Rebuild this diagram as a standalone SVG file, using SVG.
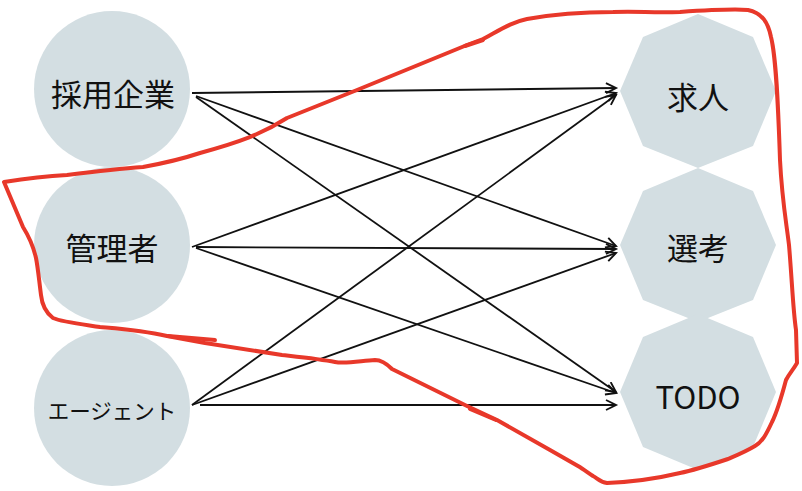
<svg xmlns="http://www.w3.org/2000/svg" width="802" height="491" viewBox="0 0 802 491">
<style>
.node{fill:#d3dee2;}
.lbl{font-family:"Noto Sans CJK JP","Noto Sans",sans-serif;fill:#111;text-anchor:middle;dominant-baseline:central;}
.edge{stroke:#111;stroke-width:1.8;fill:none;marker-end:url(#arr);}
.ink{stroke:#e8382a;stroke-width:4;fill:none;stroke-linecap:round;stroke-linejoin:round;}
</style>
<defs>
<marker id="arr" markerUnits="userSpaceOnUse" markerWidth="14" markerHeight="14" refX="11" refY="6" orient="auto">
<path d="M1,1 L11,6 L1,11" fill="none" stroke="#111" stroke-width="1.9"/>
</marker>
</defs>
<rect width="802" height="491" fill="#fff"/>
<g id="n-saiyou"><circle class="node" cx="112" cy="89" r="78"/><text class="lbl" x="113" y="92" font-size="31">採用企業</text></g>
<g id="n-kanri"><circle class="node" cx="112" cy="245" r="78"/><text class="lbl" x="112" y="246" font-size="31">管理者</text></g>
<g id="n-agent"><circle class="node" cx="112" cy="408" r="78"/><text class="lbl" x="112" y="409" font-size="21.5">エージェント</text></g>
<g id="n-kyujin"><polygon class="node" points="698,14 753,37 776,91 753,146 698,168 643,146 620,91 643,37"/><text class="lbl" x="698" y="95" font-size="31">求人</text></g>
<g id="n-senkou"><polygon class="node" points="698,168 753,191 776,245 753,300 698,322 643,300 620,245 643,191"/><text class="lbl" x="698" y="246" font-size="31">選考</text></g>
<g id="n-todo"><polygon class="node" points="698,314 753,337 776,392 753,447 698,470 643,447 620,392 643,337"/><text class="lbl" x="698" y="395" font-size="31">TODO</text></g>
<g id="edges">
<line class="edge" x1="192" y1="93" x2="616" y2="88"/>
<line class="edge" x1="196" y1="96" x2="616" y2="246"/>
<line class="edge" x1="196" y1="97" x2="616" y2="392"/>
<line class="edge" x1="192" y1="247" x2="616" y2="93"/>
<line class="edge" x1="196" y1="247" x2="616" y2="249"/>
<line class="edge" x1="196" y1="248" x2="616" y2="393"/>
<line class="edge" x1="192" y1="405" x2="616" y2="95"/>
<line class="edge" x1="192" y1="405" x2="616" y2="253"/>
<line class="edge" x1="200" y1="405" x2="616" y2="405"/>
</g>
<g id="annotation">
<path class="ink" d="M200,153 C240,142 262,134 287,118 L357,90 L467,45 L483,39 C500,30 512,22 527,19 C560,13 590,12 613,12 C640,11 650,13 680,12 C710,10 735,9 748,10 C762,13 768,22 771,37 C776,57 778,100 780,160 C782,200 786,220 789,245 C792,280 793,310 796,330 L797,363 C793,370 789,374 786,380 C782,395 778,410 772,422 C766,435 762,442 755,446 C745,452 735,456 728,459 C710,465 695,470 680,473 C655,479 630,482 607,483 C600,482 597,478 593,476 C587,472 583,469 578,466 L550,450 L497,420 L467,406 L392,369 C385,362 380,360 375,360 C360,361 345,364 335,362 C320,359 300,357 282,355 C255,351 230,347 205,343 L167,336 C140,330 110,328 100,327 C80,324 62,322 53,318 C45,312 42,305 41,295 C39,280 38,268 36,258 C33,245 28,235 23,227 L4,182 C30,178 50,176 67,175 C100,171 130,168 143,167 C165,163 185,158 200,153 Z"/>
<path class="ink" d="M465,46 L483,40" stroke-width="5.5"/>
<path class="ink" d="M168,336 L215,340"/>
<path class="ink" d="M470,409 L496,420" stroke-width="5.5"/>
</g>
</svg>
